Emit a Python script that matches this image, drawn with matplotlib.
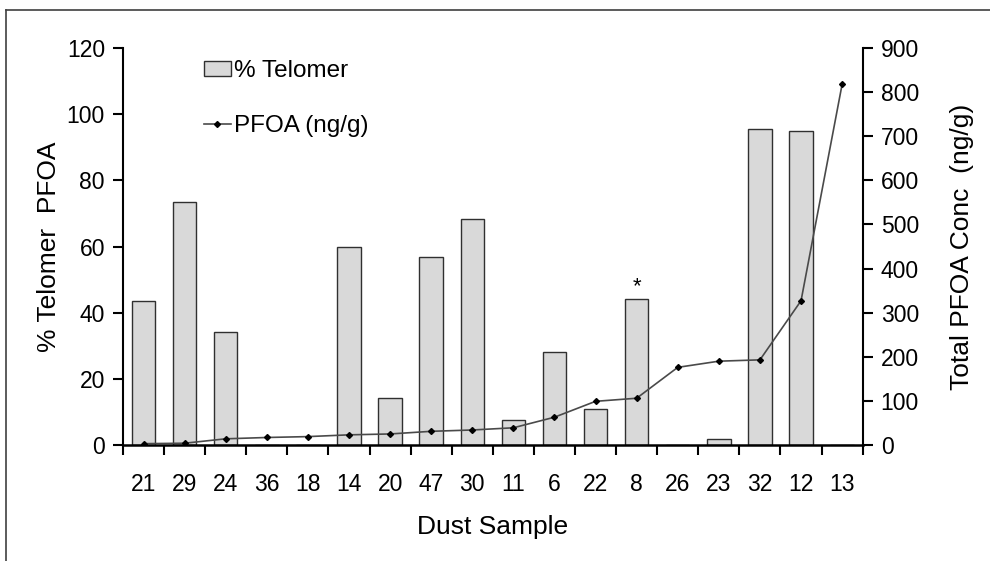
import numpy as np
import matplotlib
matplotlib.use("Agg")
import matplotlib.pyplot as plt
from matplotlib.lines import Line2D

plt.rcParams['font.family'] = ['Liberation Sans', 'DejaVu Sans']

samples = ["21", "29", "24", "36", "18", "14", "20", "47", "30",
           "11", "6", "22", "8", "26", "23", "32", "12", "13"]
telomer_pct = [43.4, 73.4, 34.1, 0, 0, 60.0, 14.3, 56.7, 68.4,
               7.6, 28.1, 10.8, 44.0, 0, 1.9, 95.4, 95.0, 0]
pfoa_conc = [3, 4, 14, 17, 19, 23, 25, 31, 34,
             39, 63, 99, 106, 176, 190, 193, 327, 818]
star_sample = "8"

fig = plt.figure(figsize=(9.9, 5.61), dpi=100)
ax = fig.add_axes([0.1242, 0.2068, 0.7472, 0.7076])
x = np.arange(len(samples))

bars = ax.bar(x, telomer_pct, width=0.57, color="#d9d9d9",
              edgecolor="#303030", linewidth=1.0, zorder=2)
ax.set_ylim(0, 120)
ax.set_xlim(-0.5, len(samples) - 0.5)
ax.set_yticks(range(0, 121, 20))
ax.set_xticks(x)
ax.set_xticklabels(samples)
ax.set_xticks(np.arange(-0.5, len(samples), 1), minor=True)
ax.tick_params(axis="x", which="major", length=0, pad=20, labelsize=16.5)
ax.tick_params(axis="x", which="minor", length=7, width=1.5, direction="out")
ax.tick_params(axis="y", length=7, width=1.5, direction="out", labelsize=16.5, pad=6)
for s in ["top", "right"]:
    ax.spines[s].set_visible(False)
ax.spines["left"].set_linewidth(1.5)
ax.spines["bottom"].set_linewidth(1.8)
ax.set_ylabel("% Telomer  PFOA", fontsize=19, labelpad=4)
ax.set_xlabel("Dust Sample", fontsize=19, labelpad=14)

i_star = samples.index(star_sample)
ax.text(x[i_star], telomer_pct[i_star] + 0.6, "*", ha="center", va="bottom", fontsize=16)

ax2 = ax.twinx()
ax2.plot(x, pfoa_conc, color="#4a4a4a", linewidth=1.2, marker="D",
         markersize=3, markerfacecolor="black", markeredgecolor="black", zorder=3)
ax2.set_ylim(0, 900)
ax2.set_yticks(range(0, 901, 100))
ax2.tick_params(axis="y", length=7, width=1.5, direction="out", labelsize=16.5, pad=6)
for s in ["top", "left", "bottom"]:
    ax2.spines[s].set_visible(False)
ax2.spines["right"].set_linewidth(1.5)
ax2.set_ylabel("Total PFOA Conc  (ng/g)", fontsize=19, labelpad=22)

handles = [bars,
           Line2D([], [], color="#4a4a4a", linewidth=1.2, marker="D", markersize=3,
                  markerfacecolor="black", markeredgecolor="black")]
ax.legend(handles, ["% Telomer", "PFOA (ng/g)"], loc="upper left",
          bbox_to_anchor=(0.08, 1.025), frameon=False, fontsize=17.5,
          handlelength=1.1, handleheight=0.55, handletextpad=0.15, labelspacing=1.35)

fig.add_artist(Line2D([0.006, 1.0], [0.982, 0.982], color="#404040", linewidth=1.2))
fig.add_artist(Line2D([0.006, 0.006], [0.0, 0.982], color="#404040", linewidth=1.2))

fig.savefig("out.png", dpi=100)
